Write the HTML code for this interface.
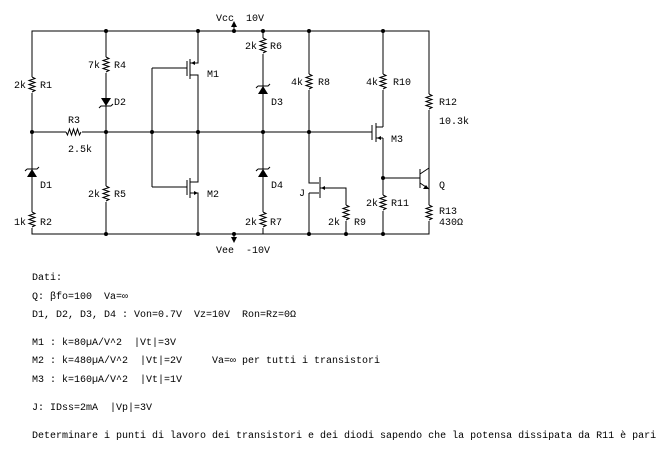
<!DOCTYPE html>
<html><head><meta charset="utf-8"><style>
html,body{margin:0;padding:0;background:#fff;}
svg{display:block}
text{font-family:"Liberation Mono",monospace;font-size:10px;fill:#000;white-space:pre;}
</style></head><body>
<svg width="670" height="454" viewBox="0 0 670 454" xmlns="http://www.w3.org/2000/svg" xml:space="preserve">
<defs>
<g id="rv"><rect x="-4" y="-8" width="8" height="16" fill="#fff"/><path d="M0,-8 l3,1.5 l-6,2 l6,2 l-6,2 l6,2 l-6,2 l6,2 l-3,1.5" fill="none" stroke="#000" stroke-width="1"/></g>
<g id="rh"><rect x="-8" y="-4" width="16" height="8" fill="#fff"/><path d="M-8,0 l1.5,3 l2,-6 l2,6 l2,-6 l2,6 l2,-6 l2,6 l1.5,-3" fill="none" stroke="#000" stroke-width="1"/></g>
<g id="du"><polygon points="-5,4 5,4 0,-4" fill="#000"/><path d="M-5,-4 h10 l2,-2 M-5,-4 l-2,2" fill="none" stroke="#000"/></g>
<g id="dot"><circle r="2" fill="#000"/></g>
</defs>
<g stroke="#000" stroke-width="1" fill="none">
<path d="M32,31 H429 V234 H32 Z"/>
<path d="M234,31 V23 M234,234 V241"/>
<path d="M32,132 H198"/>
<path d="M106,31 V234"/>
<path d="M152,68 V187"/>
<path d="M152,68 H187 M152,187 H187"/>
<path d="M187,61 V76 M190,59 V79 M190,63 H198 V31 M190,75 H198 V132"/>
<path d="M187,180 V195 M190,178 V198 M190,182 H198 V132 M190,193 H198 V234"/>
<path d="M198,132 H372"/>
<path d="M263,31 V234"/>
<path d="M309,31 V183 H319 M309,193 H319 M309,193 V234"/>
<path d="M320,177 V198 M320,188 H346 V234"/>
<path d="M372,125 V140 M376,123 V142 M376,127 H383 M376,138 H383"/>
<path d="M383,31 V127 M383,138 V234"/>
<path d="M383,178 H420 M420,169 V188 M420,174 L429,168 M420,183 L429,189"/>
</g>
<g fill="#000">
<polygon points="234,21 231,27 237,27"/>
<polygon points="234,243 231,237 237,237"/>
<polygon points="191,63 195,61 195,65"/>
<polygon points="198,193 194,191 194,195"/>
<polygon points="321,188 325,186 325,190"/>
<polygon points="377,138 381,136 381,140"/>
<polygon points="429,189 423,189 426,185"/>
</g>
<use href="#rv" x="32" y="85"/><use href="#rv" x="32" y="220"/>
<use href="#rh" x="74" y="132"/>
<use href="#rv" x="106" y="65"/><use href="#rv" x="106" y="194"/>
<use href="#rv" x="263" y="46"/><use href="#rv" x="263" y="220"/>
<use href="#rv" x="309" y="82"/><use href="#rv" x="346" y="213"/>
<use href="#rv" x="383" y="82"/><use href="#rv" x="383" y="203"/>
<use href="#rv" x="429" y="102"/><use href="#rv" x="429" y="213"/>
<use href="#du" x="32" y="173"/>
<use href="#du" x="106" y="102" transform="rotate(180 106 102)"/>
<use href="#du" x="263" y="90"/><use href="#du" x="263" y="173"/>
<use href="#dot" x="106" y="31"/><use href="#dot" x="198" y="31"/><use href="#dot" x="263" y="31"/><use href="#dot" x="309" y="31"/><use href="#dot" x="383" y="31"/><use href="#dot" x="234" y="31"/>
<use href="#dot" x="32" y="132"/><use href="#dot" x="106" y="132"/><use href="#dot" x="152" y="132"/><use href="#dot" x="198" y="132"/><use href="#dot" x="263" y="132"/><use href="#dot" x="309" y="132"/>
<use href="#dot" x="383" y="178"/>
<use href="#dot" x="106" y="234"/><use href="#dot" x="198" y="234"/><use href="#dot" x="234" y="234"/><use href="#dot" x="309" y="234"/><use href="#dot" x="346" y="234"/><use href="#dot" x="383" y="234"/>
<text x="216" y="21">Vcc</text><text x="246" y="21">10V</text>
<text x="216" y="253">Vee</text><text x="246" y="253">-10V</text>
<text x="14" y="88">2k</text><text x="40" y="88">R1</text>
<text x="40" y="188">D1</text>
<text x="14" y="225">1k</text><text x="40" y="225">R2</text>
<text x="68" y="123">R3</text><text x="68" y="152">2.5k</text>
<text x="88" y="68">7k</text><text x="114" y="68">R4</text>
<text x="114" y="105">D2</text>
<text x="88" y="197">2k</text><text x="114" y="197">R5</text>
<text x="207" y="77">M1</text><text x="207" y="197">M2</text>
<text x="245" y="49">2k</text><text x="270" y="49">R6</text>
<text x="271" y="105">D3</text><text x="271" y="188">D4</text>
<text x="245" y="225">2k</text><text x="270" y="225">R7</text>
<text x="291" y="85">4k</text><text x="318" y="85">R8</text>
<text x="299" y="196">J</text>
<text x="328" y="225">2k</text><text x="354" y="225">R9</text>
<text x="366" y="85">4k</text><text x="393" y="85">R10</text>
<text x="391" y="142">M3</text>
<text x="366" y="206">2k</text><text x="391" y="206">R11</text>
<text x="439" y="105">R12</text><text x="439" y="124">10.3k</text>
<text x="439" y="188">Q</text>
<text x="439" y="214">R13</text><text x="439" y="225">430Ω</text>
<text x="32" y="280">Dati:</text>
<text x="32" y="299">Q: βfo=100  Va=∞</text>
<text x="32" y="317">D1, D2, D3, D4 : Von=0.7V  Vz=10V  Ron=Rz=0Ω</text>
<text x="32" y="345">M1 : k=80µA/V^2  |Vt|=3V</text>
<text x="32" y="363">M2 : k=480µA/V^2  |Vt|=2V     Va=∞ per tutti i transistori</text>
<text x="32" y="382">M3 : k=160µA/V^2  |Vt|=1V</text>
<text x="32" y="410">J: IDss=2mA  |Vp|=3V</text>
<text x="32" y="438">Determinare i punti di lavoro dei transistori e dei diodi sapendo che la potensa dissipata da R11 è pari</text>
</svg>
</body></html>
